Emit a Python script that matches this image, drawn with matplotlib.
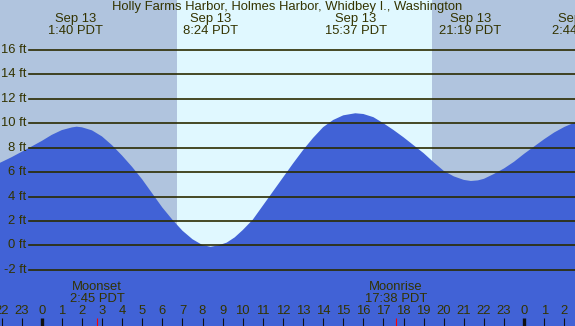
import numpy as np
import matplotlib
matplotlib.use('Agg')
import matplotlib.pyplot as plt
import matplotlib.transforms as mtransforms

plt.rcParams['font.family'] = ['Liberation Sans', 'DejaVu Sans']

hours = [-2.5, -2.0, -1.5, -1.0, -0.5, 0.0, 0.5, 1.0, 1.5, 1.74, 2.0,
         2.5, 3.0, 3.5, 4.0, 4.5, 5.0, 5.5, 6.0, 6.5, 7.0,
         7.5, 8.0, 8.4, 8.8, 9.2, 9.6, 10.0, 10.5, 11.0, 11.5, 12.0,
         12.5, 13.0, 13.5, 14.0, 14.5, 15.0, 15.6, 16.0, 16.5, 17.0,
         17.5, 18.0, 18.5, 19.0, 19.5, 20.0, 20.5, 21.0, 21.35, 21.7, 22.0,
         22.5, 23.0, 23.5, 24.0, 24.5, 25.0, 25.5, 26.0, 26.5, 27.0]
height = [6.45, 6.82, 7.22, 7.66, 8.1, 8.55, 9.05, 9.44, 9.66, 9.72, 9.67,
          9.42, 8.92, 8.2, 7.35, 6.42, 5.4, 4.25, 3.1, 2.1, 1.2,
          0.5, 0.02, -0.12, 0.0, 0.22, 0.65, 1.25, 2.1, 3.25, 4.4, 5.55,
          6.7, 7.8, 8.8, 9.68, 10.27, 10.65, 10.82, 10.76, 10.5, 10.0,
          9.45, 8.85, 8.2, 7.55, 6.8, 6.1, 5.65, 5.36, 5.27, 5.32, 5.45,
          5.85, 6.3, 6.85, 7.5, 8.1, 8.7, 9.25, 9.7, 10.05, 10.15]

# high / low tides
tide_t = [1.667, 8.4, 15.617, 21.317, 26.733]
tide_lbl = ['1:40 PDT', '8:24 PDT', '15:37 PDT', '21:19 PDT', '2:44 PDT']

sunrise = 6.73
sunset = 19.42
moon_t = [2.75, 17.633]
moon_lbl = ['Moonset\n2:45 PDT', 'Moonrise\n17:38 PDT']

levels = [-2, 0, 2, 4, 6, 8, 10, 12, 14, 16]
title = 'Holly Farms Harbor, Holmes Harbor, Whidbey I., Washington'

txt = '#333300'
fs = 9.4
W, H = 575, 326
fig = plt.figure(figsize=(W/100, H/100), dpi=100)
ax = fig.add_axes([0, 0, 1, 1])
x0, x1 = -2.075, 26.53
ax.set_xlim(x0, x1)
ax.set_ylim(-6.61, 20.1)
ax.axis('off')

# night / day background
ax.axvspan(x0, sunrise, color='#b0c4de', lw=0)
ax.axvspan(sunrise, sunset, color='#e0f8ff', lw=0)
ax.axvspan(sunset, x1, color='#b0c4de', lw=0)

ax.fill_between(hours, height, -10, color='#4162d6', lw=0)

for lv in levels:
    ax.axhline(lv, xmin=29/W, xmax=1, color='#2b2b00', lw=1.2)
    ax.text(26/W, lv, '%d ft' % lv, transform=mtransforms.blended_transform_factory(ax.transAxes, ax.transData),
            ha='right', va='center', fontsize=fs, color=txt)

fy = lambda p: 1 - p/H
bt = mtransforms.blended_transform_factory(ax.transData, ax.transAxes)

ax.text(0.5, fy(7), title, transform=ax.transAxes, ha='center', va='center', fontsize=fs, color=txt)
for t, l in zip(tide_t, tide_lbl):
    ax.text(t, fy(19), 'Sep 13', transform=bt, ha='center', va='center', fontsize=fs, color=txt)
    ax.text(t, fy(31), l, transform=bt, ha='center', va='center', fontsize=fs, color=txt)

# hour ticks along the bottom
for h in range(-2, 27):
    ax.text(h, fy(311), str(h % 24), transform=bt, ha='center', va='center', fontsize=fs, color=txt)
    if h % 24 == 0:
        ax.plot([h, h], [0, fy(317.5)], transform=bt, color='#111111', lw=2.4, solid_capstyle='butt')
    else:
        ax.plot([h, h], [0, fy(318)], transform=bt, color='#111111', lw=0.8, solid_capstyle='butt')

for t, l in zip(moon_t, moon_lbl):
    ax.text(t, fy(293), l, transform=bt, ha='center', va='center', fontsize=fs, color=txt, linespacing=1.0)
    ax.plot([t, t], [0, fy(317.5)], transform=bt, color='red', lw=0.8, solid_capstyle='butt')

fig.savefig('out.png', dpi=100)
